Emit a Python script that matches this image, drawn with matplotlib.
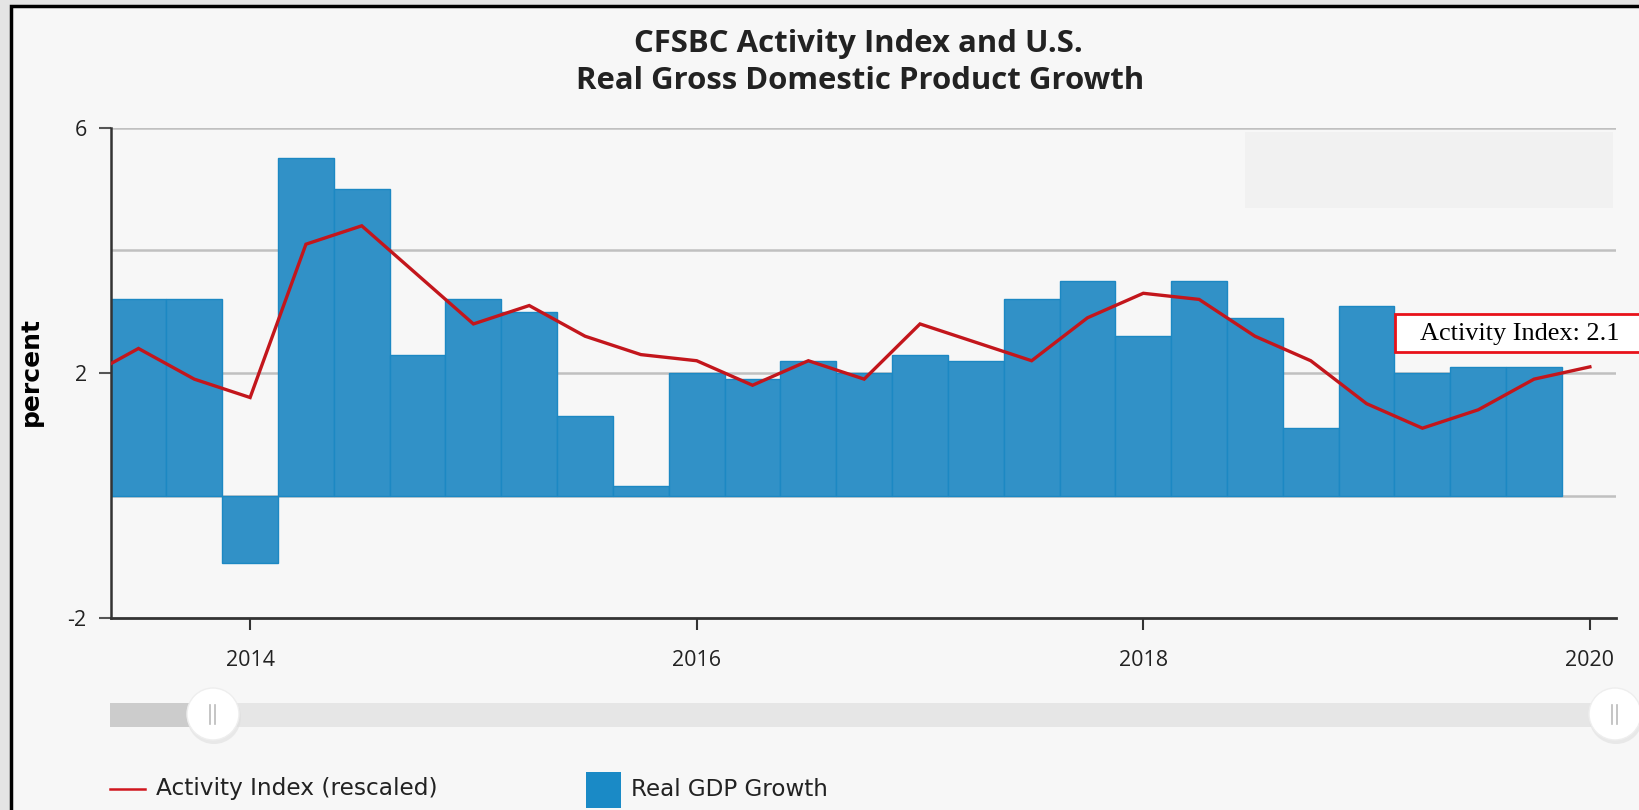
import matplotlib
matplotlib.use("Agg")
import matplotlib.pyplot as plt
from matplotlib.patches import Rectangle, Circle
import numpy as np

# ---------------- data ----------------
bar_quarters = ['2013Q3', '2013Q4', '2014Q1', '2014Q2', '2014Q3', '2014Q4',
                '2015Q1', '2015Q2', '2015Q3', '2015Q4', '2016Q1', '2016Q2',
                '2016Q3', '2016Q4', '2017Q1', '2017Q2', '2017Q3', '2017Q4',
                '2018Q1', '2018Q2', '2018Q3', '2018Q4', '2019Q1', '2019Q2',
                '2019Q3', '2019Q4']
gdp_growth = [3.2, 3.2, -1.1, 5.5, 5.0, 2.3, 3.2, 3.0, 1.3, 0.15, 2.0, 1.9,
              2.2, 2.0, 2.3, 2.2, 3.2, 3.5, 2.6, 3.5, 2.9, 1.1, 3.1, 2.0,
              2.1, 2.1]

line_quarters = ['2013Q2', '2013Q3', '2013Q4', '2014Q1', '2014Q2', '2014Q3',
                 '2014Q4', '2015Q1', '2015Q2', '2015Q3', '2015Q4', '2016Q1',
                 '2016Q2', '2016Q3', '2016Q4', '2017Q1', '2017Q2', '2017Q3',
                 '2017Q4', '2018Q1', '2018Q2', '2018Q3', '2018Q4', '2019Q1',
                 '2019Q2', '2019Q3', '2019Q4', '2020Q1']
activity_index = [1.9, 2.4, 1.9, 1.6, 4.1, 4.4, 3.6, 2.8, 3.1, 2.6, 2.3, 2.2,
                  1.8, 2.2, 1.9, 2.8, 2.5, 2.2, 2.9, 3.3, 3.2, 2.6, 2.2, 1.5,
                  1.1, 1.4, 1.9, 2.1]

x_ticks = [2014, 2016, 2018, 2020]
x_tick_labels = ['2014', '2016', '2018', '2020']
y_ticks = [-2, 2, 6]
y_tick_labels = ['-2', '2', '6']
y_grid = [0, 2, 4, 6]

title_lines = ['CFSBC Activity Index and U.S.', 'Real Gross Domestic Product Growth']
legend_labels = ['Activity Index (rescaled)', 'Real GDP Growth']
annotation_text = 'Activity Index: 2.1'


def q_to_year(q):
    return int(q[:4]) + (int(q[5]) - 1) * 0.25


bar_x = np.array([q_to_year(q) for q in bar_quarters])
line_x = np.array([q_to_year(q) for q in line_quarters])

# ---------------- figure ----------------
W, H = 1640, 810
fig = plt.figure(figsize=(W / 100, H / 100), dpi=100)
fig.patch.set_facecolor('#e4e4e4')

# background layer (pixel coordinates)
bg = fig.add_axes([0, 0, 1, 1], zorder=0)
bg.set_xlim(0, W)
bg.set_ylim(H, 0)
bg.axis('off')
bg.add_patch(Rectangle((11.5, 6), W, H, facecolor='#f7f7f7',
                       edgecolor='black', linewidth=2.5))
bg.add_patch(Rectangle((1245, 132), 368, 76, facecolor='#f1f1f1',
                       edgecolor='none'))

# main axes
ax = fig.add_axes([111 / W, 1 - 618.3 / H, (1616 - 111) / W, (618.3 - 127.7) / H],
                  zorder=1)
ax.patch.set_alpha(0)
for yv in y_grid:
    ax.axhline(yv, color='#c0c0c0', linewidth=1.8, zorder=0)

ax.bar(bar_x, gdp_growth, width=0.25, color='#3191c7', edgecolor='#1c88c3',
       linewidth=1.0, zorder=2)
ax.plot(line_x, activity_index, color='#c3161c', linewidth=2.4, zorder=3,
        solid_joinstyle='miter')

ax.set_xlim(2013.377, 2020.117)
ax.set_ylim(-2, 6)
ax.set_xticks(x_ticks)
ax.set_xticklabels(x_tick_labels, fontfamily='Open Sans', fontsize=15.5,
                   color='#222222')
ax.set_yticks(y_ticks)
ax.set_yticklabels(y_tick_labels, fontfamily='Open Sans', fontsize=15.5,
                   color='#222222')
ax.tick_params(axis='x', direction='out', length=8.5, width=1.5,
               color='#333333', pad=14)
ax.tick_params(axis='y', direction='out', length=8.5, width=1.5,
               color='#555555', pad=9)
for s in ['top', 'right']:
    ax.spines[s].set_visible(False)
ax.spines['left'].set_color('#333333')
ax.spines['left'].set_linewidth(1.8)
ax.spines['bottom'].set_color('#333333')
ax.spines['bottom'].set_linewidth(2.0)

# foreground layer (pixel coordinates)
fg = fig.add_axes([0, 0, 1, 1], zorder=5)
fg.set_xlim(0, W)
fg.set_ylim(H, 0)
fg.axis('off')
fg.patch.set_alpha(0)

renderer = fig.canvas.get_renderer()


def fit(t, target, vertical=False):
    bb = t.get_window_extent(renderer)
    size = bb.height if vertical else bb.width
    t.set_fontsize(t.get_fontsize() * target / size)
    return t.get_fontsize()


# title
t1 = fg.text(858, 44, title_lines[0], ha='center', va='center',
             fontfamily='Open Sans', fontweight='bold', fontsize=22, color='#222222')
t2 = fg.text(860, 81, title_lines[1], ha='center', va='center',
             fontfamily='Open Sans', fontweight='bold', fontsize=22, color='#222222')
fs = fit(t2, 568)
t1.set_fontsize(fs)

# y label
yl = fg.text(31, 372, 'percent', rotation=90, ha='center', va='center',
             fontfamily='DejaVu Sans', fontweight='bold', fontsize=18, color='black')
fit(yl, 109, vertical=True)

# annotation box
fg.add_patch(Rectangle((1395, 314), 260, 38, facecolor='white',
                       edgecolor='#e8121a', linewidth=2))
an = fg.text(1420, 334, annotation_text, ha='left', va='center',
             fontfamily='Liberation Serif', fontsize=18.5, color='black')
fit(an, 200)

# navigator slider
fg.add_patch(Rectangle((110, 703), 1506, 24, facecolor='#e6e6e6',
                       edgecolor='none'))
fg.add_patch(Rectangle((110, 703), 103, 24, facecolor='#cccccc',
                       edgecolor='none'))
for cx in (213, 1615):
    fg.add_patch(Circle((cx + 1, 717), 27, facecolor='#dedede',
                        edgecolor='none', alpha=0.6))
    fg.add_patch(Circle((cx, 714), 26, facecolor='white',
                        edgecolor='#eeeeee', linewidth=1))
    fg.plot([cx - 2.5, cx - 2.5], [705, 724], color='#bbbbbb', linewidth=1.2)
    fg.plot([cx + 2.5, cx + 2.5], [705, 724], color='#bbbbbb', linewidth=1.2)

# legend
fg.plot([110, 145], [789, 789], color='#d0161e', linewidth=1.8)
l1 = fg.text(156, 789, legend_labels[0], ha='left', va='center',
             fontfamily='DejaVu Sans', fontsize=16.6, color='#222222')
fit(l1, 281)
fg.add_patch(Rectangle((586, 772), 35, 36, facecolor='#1a8ac6',
                       edgecolor='none'))
l2 = fg.text(631, 789, legend_labels[1], ha='left', va='center',
             fontfamily='DejaVu Sans', fontsize=16.6, color='#222222')
fit(l2, 196)

fig.savefig('out.png', dpi=100, facecolor=fig.get_facecolor())
